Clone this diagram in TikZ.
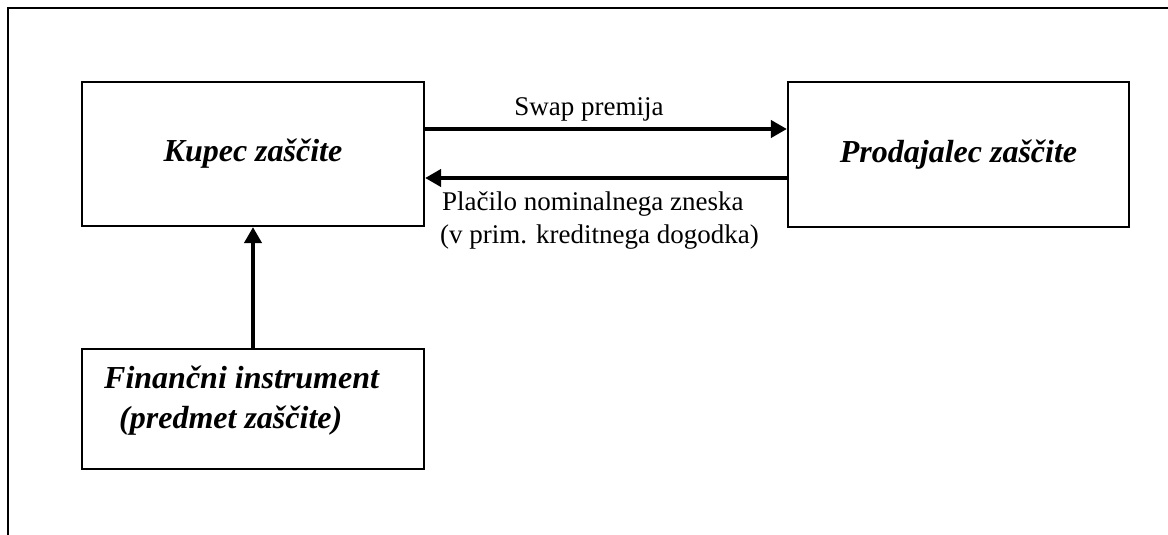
\documentclass[tikz,border=0pt]{standalone}
\usepackage{fontspec}
\setmainfont{Liberation Serif}
\usetikzlibrary{arrows.meta}
\begin{document}
\begin{tikzpicture}[x=1pt,y=-1pt,
  box/.style={draw=black, line width=2.2pt, rectangle, inner sep=0pt},
  boxtext/.style={font=\fontsize{32}{38}\selectfont\bfseries\itshape, inner sep=0pt},
  lbl/.style={font=\fontsize{27}{33}\selectfont, inner sep=0pt},
  arr/.style={line width=4pt, -{Triangle[length=16pt,width=17pt]}},
  frame/.style={line width=2.8pt}]
\useasboundingbox (0,0) rectangle (1168,535);
\fill[white] (0,0) rectangle (1168,535);
% outer frame (top and left edges)
\coordinate (fl) at (8,535);
\coordinate (fc) at (8,8);
\coordinate (fr) at (1168,8);
\draw[frame] (fl) -- (fc) -- (fr);
% boxes
\node[box, minimum width=342pt, minimum height=144pt] (kupec) at (253,154) {};
\node[boxtext] (kupect) at (kupec.center) {Kupec zaščite};
\node[box, minimum width=341pt, minimum height=145pt] (prod) at (958.5,154.5) {};
\node[boxtext] (prodt) at (prod.center) {Prodajalec zaščite};
\node[box, minimum width=342pt, minimum height=120pt] (fin) at (253,409) {};
\node[boxtext, anchor=base west] (fin1) at (104,388) {Finančni instrument};
\node[boxtext, anchor=base west] (fin2) at (119,428) {(predmet zaščite)};
% arrows
\draw[arr] ([yshift=25pt]kupec.east) -- ([yshift=25.5pt]prod.west);
\draw[arr] ([yshift=-23.5pt]prod.west) -- ([yshift=-24pt]kupec.east);
\draw[arr] (fin.north) -- (kupec.south);
% labels
\node[lbl, anchor=base] (swap) at (589,115) {Swap premija};
\node[lbl, anchor=base west] (plac1) at (442,210) {Plačilo nominalnega zneska};
\node[lbl, anchor=base west] (plac2) at (440,243) {(v prim. kreditnega dogodka)};
\end{tikzpicture}
\end{document}
